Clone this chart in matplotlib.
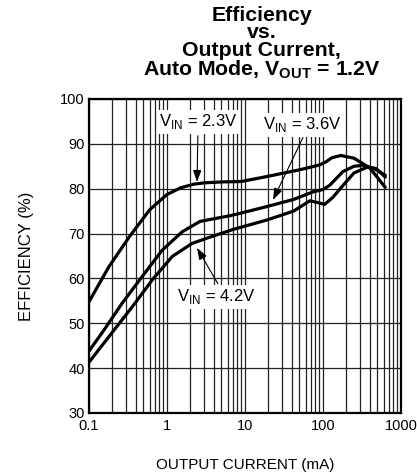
import matplotlib
matplotlib.use("Agg")
import matplotlib.pyplot as plt
from matplotlib.ticker import FixedLocator, NullFormatter

plt.rcParams['font.family'] = ['Liberation Sans', 'DejaVu Sans']
plt.rcParams['mathtext.fontset'] = 'custom'
plt.rcParams['mathtext.rm'] = 'Liberation Sans'
plt.rcParams['mathtext.bf'] = 'Liberation Sans:bold'

# output current (mA) and efficiency (%)
x_23 = [0.1, 0.18, 0.33, 0.6, 1.0, 1.5, 2.2, 3, 5, 9, 19, 50, 91, 110, 130, 170, 250, 400, 630]
eff_23 = [54.8, 62.6, 69.3, 75.3, 78.7, 80.2, 81.0, 81.3, 81.5, 81.6, 82.7, 84.2, 85.3, 86.0, 86.9, 87.4, 86.8, 84.6, 80.3]

x_36 = [0.1, 0.156, 0.267, 0.48, 0.87, 1.57, 2.65, 7, 19, 42, 75, 100, 123, 180, 250, 330, 450, 630]
eff_36 = [43.8, 48.5, 54.5, 60.4, 66.3, 70.4, 72.7, 74.1, 76.0, 77.6, 79.3, 79.8, 80.8, 83.8, 85.0, 85.2, 84.5, 83.0]

x_42 = [0.1, 0.21, 0.36, 0.65, 1.17, 2.1, 3.3, 7, 19, 42, 68, 91, 105, 133, 200, 250, 370, 480, 630]
eff_42 = [41.3, 48.5, 53.7, 59.7, 64.9, 67.8, 69.0, 70.9, 73.0, 75.0, 77.3, 76.8, 76.5, 78.0, 81.6, 83.5, 84.8, 84.5, 82.6]

x_ticks = [0.1, 1, 10, 100, 1000]
x_labels = ['0.1', '1', '10', '100', '1000']
y_ticks = [30, 40, 50, 60, 70, 80, 90, 100]

fig = plt.figure(figsize=(4.17, 4.76), dpi=100)
ax = fig.add_axes([0.2134, 0.1324, 0.748, 0.6597])

ax.set_xscale('log')
ax.set_xlim(0.1, 1000)
ax.set_ylim(30, 100)

minor = [m * d for d in [0.1, 1, 10, 100] for m in range(2, 10)]
ax.xaxis.set_major_locator(FixedLocator(x_ticks))
ax.xaxis.set_minor_locator(FixedLocator(minor))
ax.xaxis.set_minor_formatter(NullFormatter())
ax.set_xticks(x_ticks)
ax.set_xticklabels(x_labels)
ax.set_yticks(y_ticks)

ax.grid(True, which='both', axis='x', color='#222222', linewidth=0.9)
ax.grid(True, which='major', axis='y', color='#222222', linewidth=0.9)
ax.tick_params(which='both', length=0, labelsize=10.5, pad=3)
ax.tick_params(axis='x', pad=4)
for s in ax.spines.values():
    s.set_linewidth(1.6)

for xs, ys in [(x_23, eff_23), (x_36, eff_36), (x_42, eff_42)]:
    ax.plot(xs, ys, color='black', linewidth=2.3, solid_capstyle='round', zorder=3)

box = dict(boxstyle='square,pad=0.15', facecolor='white', edgecolor='none')
arrow = dict(arrowstyle='-|>,head_length=0.7,head_width=0.25', color='black', linewidth=0.8, shrinkA=0, shrinkB=0)

ax.text(2.54, 94.9, r'V$_{\mathrm{IN}}$ = 2.3V', ha='center', va='center', fontsize=12, bbox=box, zorder=5)
ax.annotate('', xy=(2.43, 81.5), xytext=(2.49, 91.8), arrowprops=arrow, zorder=4)

ax.text(53.8, 94.2, r'V$_{\mathrm{IN}}$ = 3.6V', ha='center', va='center', fontsize=12, bbox=box, zorder=5)
ax.annotate('', xy=(22.9, 77.5), xytext=(55.5, 91.4), arrowprops=arrow, zorder=4)

ax.text(4.31, 55.9, r'V$_{\mathrm{IN}}$ = 4.2V', ha='center', va='center', fontsize=12, bbox=box, zorder=5)
ax.annotate('', xy=(2.43, 66.8), xytext=(4.5, 58.8), arrowprops=arrow, zorder=4)

fig.text(0.628, 0.988, 'Efficiency\nvs.\nOutput Current,\n' + r'Auto Mode, V$_{\mathbf{OUT}}$ = 1.2V',
         ha='center', va='top', fontsize=15.3, fontweight='bold', linespacing=0.9)

ax.set_ylabel('EFFICIENCY (%)', fontsize=12, labelpad=19)
ax.set_xlabel('OUTPUT CURRENT (mA)', fontsize=11, labelpad=18)

fig.savefig('out.png', dpi=100)
